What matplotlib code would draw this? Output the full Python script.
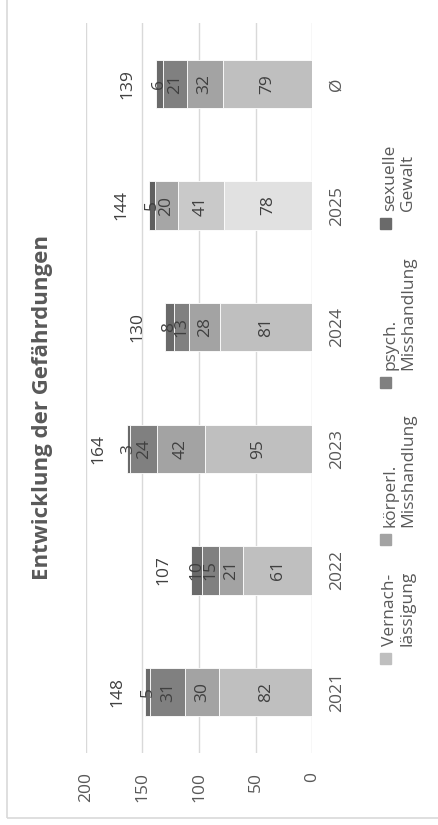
import matplotlib
matplotlib.use("Agg")
import matplotlib.pyplot as plt
import matplotlib.patches as mpatches
import numpy as np

plt.rcParams['font.family'] = ['Open Sans', 'DejaVu Sans']

# data
years = ['2021', '2022', '2023', '2024', '2025', 'Ø']
vernach = [82, 61, 95, 81, 78, 79]
koerperl = [30, 21, 42, 28, 41, 32]
psych = [31, 15, 24, 13, 20, 21]
sexuell = [5, 10, 3, 8, 5, 6]
totals = [148, 107, 164, 130, 144, 139]

series = [vernach, koerperl, psych, sexuell]
legend_labels = ['Vernach-\nlässigung', 'körperl.\nMisshandlung', 'psych.\nMisshandlung', 'sexuelle\nGewalt']
colors = ['#BFBFBF', '#A3A3A3', '#808080', '#6A6A6A']
colors_2025 = ['#E1E1E1', '#C9C9C9', '#A6A6A6', '#606060']  # 2025 drawn lighter
value_ticks = [0, 50, 100, 150, 200]

W, H = 438, 825
fig = plt.figure(figsize=(W / 100, H / 100), dpi=100)

# outer frame (only left and bottom edges visible in the reference)
fig.patches.append(mpatches.Rectangle((7 / W, (H - 818) / H), 2, 2, transform=fig.transFigure,
                                      fill=False, edgecolor='#D9D9D9', lw=1.2))

ax = fig.add_axes([86 / W, (H - 753) / H, (312 - 86) / W, (753 - 23) / H])

y = np.arange(len(years))
txt = '#404040'
fs = 12.5
left = np.zeros(len(years))
for s, vals in enumerate(series):
    vals = np.array(vals)
    cols = [colors_2025[s] if yr == '2025' else colors[s] for yr in years]
    ax.barh(y, vals, left=left, height=0.395, color=cols, edgecolor='white', linewidth=0.6, zorder=3)
    for i, v in enumerate(vals):
        ax.text(left[i] + v / 2, y[i], str(v), rotation=90, ha='center', va='center',
                fontsize=fs, color=txt, zorder=4)
    left += vals

for i, t in enumerate(totals):
    ax.annotate(str(t), xy=(t, y[i]), xytext=(-20, 0), textcoords='offset points',
                rotation=90, ha='center', va='center', fontsize=fs, color=txt)

ax.set_xlim(200, 0)
ax.set_ylim(-0.5, len(years) - 0.5)
ax.set_xticks(value_ticks)
ax.set_xticklabels([str(v) for v in value_ticks], rotation=90, va='top', ha='center')
ax.set_yticks(y)
ax.set_yticklabels(years, rotation=90, va='center', ha='left')
ax.yaxis.tick_right()
ax.tick_params(axis='x', length=0, pad=14, labelsize=fs, labelcolor='#595959')
ax.tick_params(axis='y', length=0, pad=12, labelsize=fs, labelcolor='#595959')
ax.grid(axis='x', color='#D9D9D9', lw=1, zorder=0)
for sp in ax.spines.values():
    sp.set_visible(False)

# title (rotated)
fig.text(43 / W, 1 - 408 / H, 'Entwicklung der Gefährdungen', rotation=90, ha='center', va='center',
         fontsize=16, fontweight='bold', color='#595959')

# legend drawn by hand, rotated
marker_y = [658, 539, 382, 223]
for s in range(4):
    fig.patches.append(mpatches.Rectangle((379.5 / W, 1 - (marker_y[s] + 5.5) / H), 11 / W, 11 / H,
                                          transform=fig.transFigure, color=colors[s]))
    fig.text(399 / W, 1 - (marker_y[s] - 12) / H, legend_labels[s], rotation=90, ha='center', va='bottom',
             multialignment='left', fontsize=fs, color='#595959', linespacing=1.15)

fig.savefig('out.png', dpi=100)
